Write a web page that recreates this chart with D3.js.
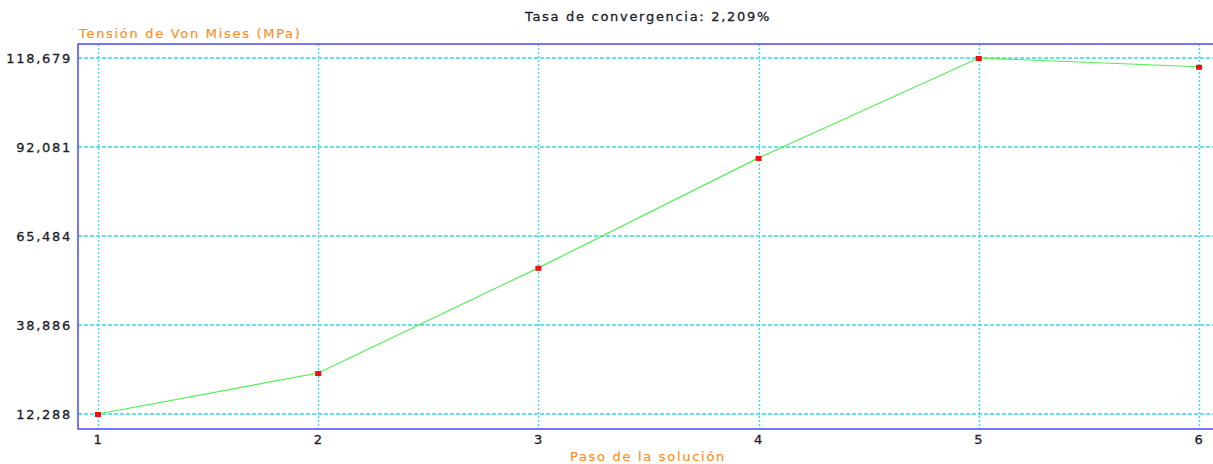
<!DOCTYPE html>
<html>
<head>
<meta charset="utf-8">
<script src="https://cdn.jsdelivr.net/npm/d3@7"></script>
<style>
  html, body { margin: 0; padding: 0; background: #fff; }
  svg { display: block; }
  text { font-family: "DejaVu Sans", Verdana, sans-serif; letter-spacing: 1.7px; }
</style>
</head>
<body>
<svg id="chart" width="1213" height="464"></svg>
<script>
// Convergence history of the maximum Von Mises stress per solution step
const steps = [1, 2, 3, 4, 5, 6];
const stress = [12288, 24530, 55970, 88820, 118679, 116060];
const yTicks = [12288, 38886, 65484, 92081, 118679];
const yTickLabels = ["12,288", "38,886", "65,484", "92,081", "118,679"];
const title = "Tasa de convergencia: 2,209%";
const yTitle = "Tensión de Von Mises (MPa)";
const xTitle = "Paso de la solución";

const svg = d3.select("#chart");
const box = { left: 78, top: 44, right: 1214, bottom: 429 };
const fontSize = 13;
const dark = "#1c1c2c";
const orange = "#ff8c1a";
const gridColor = "#30dce6";

const x = d3.scaleLinear().domain([1, 6]).range([98, 1199]);
const y = d3.scaleLinear().domain([12288, 118679]).range([414, 58]);

// Grid lines
const grid = svg.append("g");
grid.selectAll("line.h").data(yTicks).join("line")
  .attr("x1", box.left).attr("x2", box.right)
  .attr("y1", d => Math.round(y(d))).attr("y2", d => Math.round(y(d)))
  .attr("stroke", gridColor).attr("stroke-width", 1.6)
  .attr("stroke-dasharray", "4,2");
grid.selectAll("line.v").data(steps).join("line")
  .attr("y1", box.top).attr("y2", box.bottom)
  .attr("x1", d => Math.round(x(d)) + 0.5).attr("x2", d => Math.round(x(d)) + 0.5)
  .attr("stroke", gridColor).attr("stroke-width", 1.3)
  .attr("stroke-dasharray", "2,2");

// Plot frame
svg.append("rect")
  .attr("x", box.left).attr("y", box.top)
  .attr("width", box.right - box.left).attr("height", box.bottom - box.top)
  .attr("fill", "none").attr("stroke", "#4a4af5").attr("stroke-width", 1.5);

function styleText(sel, color) {
  sel.attr("font-size", fontSize).attr("fill", color)
    .attr("stroke", color).attr("stroke-width", 0.3)
    .attr("font-family", "'DejaVu Sans', Verdana, sans-serif");
}

// Axis labels via d3 axes (no domain/ticks drawn)
const yAxis = d3.axisLeft(y).tickValues(yTicks)
  .tickFormat((d, i) => yTickLabels[i]).tickSize(0).tickPadding(6);
svg.append("g").attr("transform", `translate(${box.left},0)`).call(yAxis)
  .call(g => g.select(".domain").remove())
  .call(g => g.selectAll(".tick line").remove())
  .selectAll("text").call(styleText, dark);

const xAxis = d3.axisBottom(x).tickValues(steps).tickFormat(d3.format("d"))
  .tickSize(0).tickPadding(6);
svg.append("g").attr("transform", `translate(0,${box.bottom})`).call(xAxis)
  .call(g => g.select(".domain").remove())
  .call(g => g.selectAll(".tick line").remove())
  .selectAll("text").call(styleText, dark);

// Data line
const pts = steps.map((s, i) => [s, stress[i]]);
svg.append("path").datum(pts)
  .attr("fill", "none").attr("stroke", "#50f050").attr("stroke-width", 1.2)
  .attr("d", d3.line().x(d => x(d[0])).y(d => y(d[1])));

// Markers
svg.selectAll("rect.pt").data(pts).join("rect")
  .attr("x", d => x(d[0]) - 3).attr("y", d => y(d[1]) - 2)
  .attr("width", 6).attr("height", 5).attr("fill", "#ee1111");

// Titles
svg.append("text").attr("x", 648).attr("y", 21).attr("text-anchor", "middle")
  .call(styleText, dark).text(title);
svg.append("text").attr("x", 79).attr("y", 38)
  .call(styleText, orange).attr("stroke-width", 0.15).text(yTitle);
svg.append("text").attr("x", 648).attr("y", 461).attr("text-anchor", "middle")
  .call(styleText, orange).attr("stroke-width", 0.15).text(xTitle);
</script>
</body>
</html>
